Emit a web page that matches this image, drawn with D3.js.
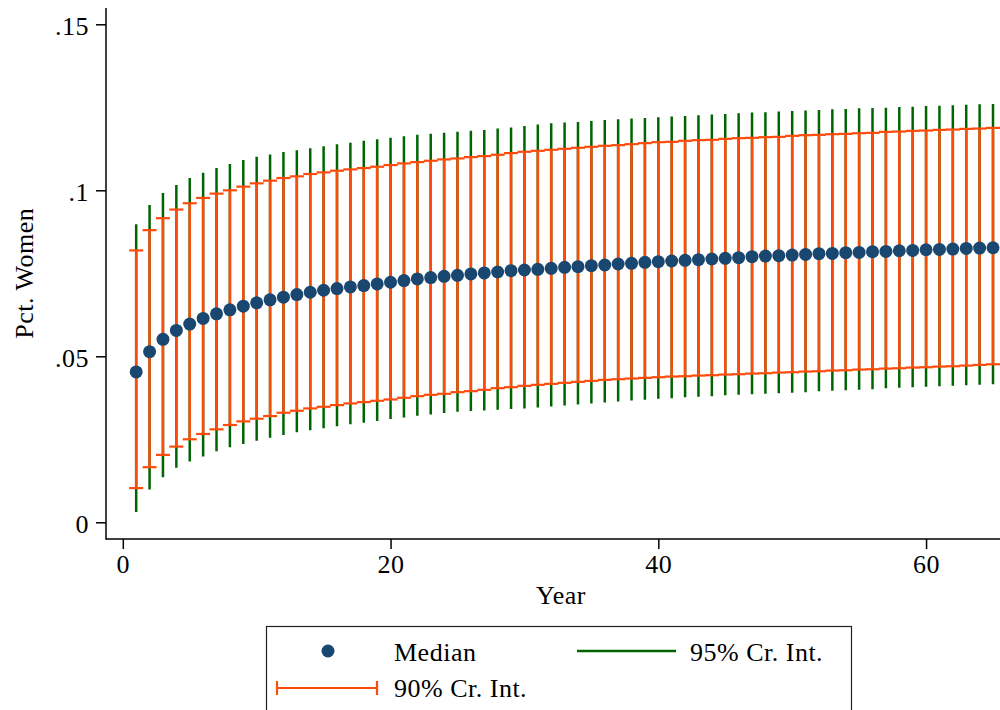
<!DOCTYPE html>
<html>
<head>
<meta charset="utf-8">
<script src="https://cdn.jsdelivr.net/npm/d3@7"></script>
<style>
    body { margin: 0; background: #fff; }
    #chart { width: 1000px; height: 710px; overflow: hidden; }
    text { font-family: "Liberation Serif", "Times New Roman", serif; fill: #000; letter-spacing: 0.5px; }
</style>
</head>
<body>
<div id="chart"></div>
<script>
// Year (x)
const years = [1,2,3,4,5,6,7,8,9,10,11,12,13,14,15,16,17,18,19,20,21,22,23,24,25,
    26,27,28,29,30,31,32,33,34,35,36,37,38,39,40,41,42,43,44,45,46,47,48,49,50,
    51,52,53,54,55,56,57,58,59,60,61,62,63,64,65];

// Median
const median = [.0453,.0514,.0551,.0578,.0597,.0614,.0628,.0640,.0651,.0661,.0670,.0678,.0686,.0693,.0699,
    .0704,.0709,.0713,.0718,.0723,.0728,.0733,.0737,.0741,.0744,.0748,.0751,.0754,.0758,.0760,
    .0762,.0765,.0768,.0770,.0773,.0775,.0778,.0780,.0783,.0785,.0787,.0789,.0791,.0793,.0795,
    .0797,.0800,.0802,.0803,.0805,.0807,.0809,.0810,.0812,.0813,.0815,.0816,.0818,.0819,.0821,
    .0822,.0823,.0825,.0826,.0827];

// 90% credible interval
const lo90 = [.0103,.0166,.0203,.0228,.0250,.0266,.0280,.0293,.0304,.0312,.0320,.0330,.0336,.0343,.0348,
    .0353,.0358,.0362,.0366,.0370,.0375,.0380,.0384,.0387,.0392,.0395,.0399,.0404,.0407,.0411,
    .0414,.0417,.0420,.0423,.0426,.0429,.0431,.0433,.0435,.0437,.0439,.0440,.0442,.0443,.0445,
    .0446,.0448,.0449,.0451,.0452,.0454,.0455,.0457,.0458,.0460,.0461,.0463,.0464,.0466,.0467,
    .0469,.0470,.0472,.0474,.0476];
const hi90 = [.0819,.0880,.0916,.0942,.0961,.0977,.0990,.1000,.1011,.1021,.1029,.1037,.1042,.1049,.1054,
    .1059,.1063,.1067,.1071,.1076,.1081,.1085,.1089,.1093,.1096,.1100,.1103,.1107,.1112,.1116,
    .1119,.1122,.1125,.1128,.1131,.1134,.1136,.1139,.1142,.1145,.1146,.1149,.1151,.1152,.1155,
    .1157,.1158,.1160,.1161,.1164,.1166,.1167,.1169,.1170,.1172,.1173,.1176,.1177,.1179,.1180,
    .1182,.1183,.1185,.1186,.1188];

// 95% credible interval
const lo95 = [.0031,.0099,.0136,.0164,.0183,.0198,.0214,.0226,.0236,.0246,.0255,.0263,.0271,.0277,.0283,
    .0289,.0295,.0300,.0305,.0311,.0316,.0321,.0325,.0329,.0333,.0335,.0337,.0339,.0341,.0343,
    .0346,.0349,.0352,.0355,.0358,.0361,.0364,.0367,.0369,.0372,.0374,.0377,.0378,.0380,.0383,
    .0384,.0386,.0387,.0389,.0390,.0392,.0395,.0396,.0398,.0399,.0401,.0404,.0405,.0407,.0408,
    .0410,.0411,.0413,.0414,.0416];
const hi95 = [.0898,.0956,.0992,.1016,.1037,.1053,.1067,.1079,.1091,.1101,.1108,.1115,.1121,.1127,.1133,
    .1139,.1143,.1149,.1154,.1158,.1163,.1167,.1170,.1173,.1176,.1179,.1182,.1186,.1189,.1194,
    .1198,.1202,.1204,.1206,.1209,.1212,.1214,.1216,.1218,.1220,.1222,.1224,.1226,.1228,.1230,
    .1232,.1234,.1235,.1237,.1239,.1240,.1242,.1244,.1245,.1247,.1248,.1249,.1251,.1252,.1254,
    .1255,.1256,.1258,.1259,.1260];

const xTicks = [0, 20, 40, 60];
const yTicks = [0, .05, .1, .15];
const yTickLabels = ["0", ".05", ".1", ".15"];
const legendLabels = ["Median", "95% Cr. Int.", "90% Cr. Int."];

const data = years.map(function(y, i) {
    return {year: y, med: median[i], lo90: lo90[i], hi90: hi90[i], lo95: lo95[i], hi95: hi95[i]};
});

const width = 1000;
const height = 710;
const fontSize = 26;
const navy = "#1a476f";
const orange = "#ff4b0a";
const green = "#006400";

const svg = d3.select("#chart")
    .append("svg")
    .attr("width", width)
    .attr("height", height);

// Scales
const xScale = d3.scaleLinear()
    .domain([0, 65])
    .range([122.8, 993]);

const yScale = d3.scaleLinear()
    .domain([0, .15])
    .range([522.3, 24.3]);

const axisX = 106;   // y axis line position
const axisY = 539;   // x axis line position

// Axes
const yAxis = svg.append("g")
    .attr("transform", `translate(${axisX},0)`)
    .call(d3.axisLeft(yScale).tickValues(yTicks).tickSize(10).tickPadding(7)
        .tickFormat(function(d, i) { return yTickLabels[i]; }));
yAxis.select(".domain").remove();
yAxis.selectAll(".tick line").attr("stroke", "#000").attr("stroke-width", 1.5);
yAxis.selectAll(".tick text")
    .attr("font-size", fontSize)
    .attr("font-family", "Liberation Serif")
    .attr("dy", "0.4em");

const xAxis = svg.append("g")
    .attr("transform", `translate(0,${axisY})`)
    .call(d3.axisBottom(xScale).tickValues(xTicks).tickSize(10).tickPadding(6));
xAxis.select(".domain").remove();
xAxis.selectAll(".tick line").attr("stroke", "#000").attr("stroke-width", 1.5);
xAxis.selectAll(".tick text")
    .attr("font-size", fontSize)
    .attr("font-family", "Liberation Serif");

svg.append("line")
    .attr("x1", axisX).attr("x2", axisX)
    .attr("y1", 8).attr("y2", axisY + 0.75)
    .attr("stroke", "#000").attr("stroke-width", 1.5);
svg.append("line")
    .attr("x1", axisX).attr("x2", width)
    .attr("y1", axisY).attr("y2", axisY)
    .attr("stroke", "#000").attr("stroke-width", 1.5);

// Axis labels
svg.append("text")
    .attr("x", 561)
    .attr("y", 604)
    .attr("text-anchor", "middle")
    .attr("font-size", fontSize)
    .text("Year");

svg.append("text")
    .attr("transform", `translate(33,${(yScale(0) + yScale(.15)) / 2}) rotate(-90)`)
    .attr("text-anchor", "middle")
    .attr("font-size", fontSize)
    .text("Pct. Women");

// 95% interval spikes
svg.append("g")
    .selectAll("line")
    .data(data)
    .enter()
    .append("line")
        .attr("x1", function(d) { return xScale(d.year); })
        .attr("x2", function(d) { return xScale(d.year); })
        .attr("y1", function(d) { return yScale(d.lo95); })
        .attr("y2", function(d) { return yScale(d.hi95); })
        .attr("stroke", green)
        .attr("stroke-width", 2.5);

// 90% interval with caps
const ci90 = svg.append("g")
    .selectAll("g")
    .data(data)
    .enter()
    .append("g");

ci90.append("line")
    .attr("x1", function(d) { return xScale(d.year); })
    .attr("x2", function(d) { return xScale(d.year); })
    .attr("y1", function(d) { return yScale(d.lo90); })
    .attr("y2", function(d) { return yScale(d.hi90); })
    .attr("stroke", orange)
    .attr("stroke-width", 2.5);

["lo90", "hi90"].forEach(function(k) {
    ci90.append("line")
        .attr("x1", function(d) { return xScale(d.year) - 7; })
        .attr("x2", function(d) { return xScale(d.year) + 7; })
        .attr("y1", function(d) { return yScale(d[k]); })
        .attr("y2", function(d) { return yScale(d[k]); })
        .attr("stroke", orange)
        .attr("stroke-width", 2.2);
});

// Median dots
svg.append("g")
    .selectAll("circle")
    .data(data)
    .enter()
    .append("circle")
        .attr("cx", function(d) { return xScale(d.year); })
        .attr("cy", function(d) { return yScale(d.med); })
        .attr("r", 6.5)
        .attr("fill", navy);

// Legend
const legend = svg.append("g");
legend.append("rect")
    .attr("x", 266.5)
    .attr("y", 626.5)
    .attr("width", 585)
    .attr("height", 100)
    .attr("fill", "#fff")
    .attr("stroke", "#222")
    .attr("stroke-width", 1.2);

legend.append("circle")
    .attr("cx", 328).attr("cy", 651).attr("r", 6.5)
    .attr("fill", navy);
legend.append("text")
    .attr("x", 394).attr("y", 661)
    .attr("font-size", fontSize)
    .text(legendLabels[0]);

legend.append("line")
    .attr("x1", 577).attr("x2", 676)
    .attr("y1", 651).attr("y2", 651)
    .attr("stroke", green).attr("stroke-width", 2.5);
legend.append("text")
    .attr("x", 690).attr("y", 661)
    .attr("font-size", fontSize)
    .text(legendLabels[1]);

legend.append("line")
    .attr("x1", 277).attr("x2", 377)
    .attr("y1", 688).attr("y2", 688)
    .attr("stroke", orange).attr("stroke-width", 2.2);
[277, 377].forEach(function(x) {
    legend.append("line")
        .attr("x1", x).attr("x2", x)
        .attr("y1", 681).attr("y2", 695)
        .attr("stroke", orange).attr("stroke-width", 2.2);
});
legend.append("text")
    .attr("x", 394).attr("y", 697)
    .attr("font-size", fontSize)
    .text(legendLabels[2]);
</script>
</body>
</html>
